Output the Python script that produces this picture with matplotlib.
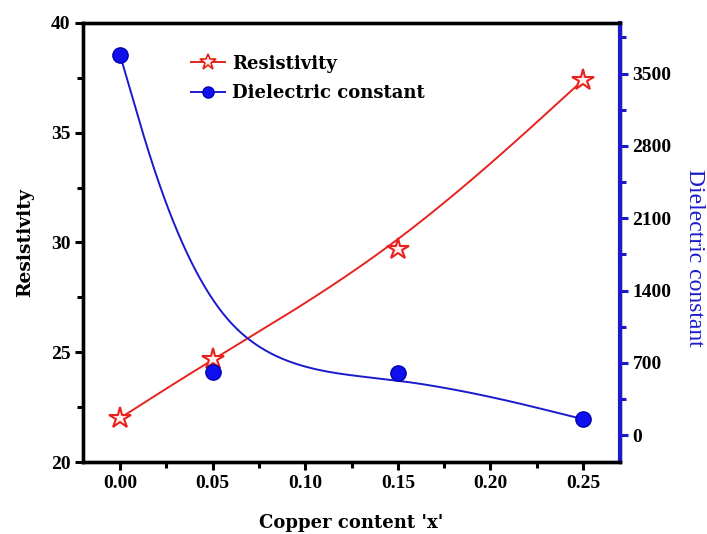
import numpy as np
import matplotlib
matplotlib.use("Agg")
import matplotlib.pyplot as plt
from matplotlib.ticker import MultipleLocator

# data
copper_x = [0.00, 0.05, 0.15, 0.25]
resistivity = [22.0, 24.7, 29.7, 37.4]
dielectric = [3680, 608, 600, 155]

xticks = [0.00, 0.05, 0.10, 0.15, 0.20, 0.25]
left_ticks = [20, 25, 30, 35, 40]
right_ticks = [0, 700, 1400, 2100, 2800, 3500]


def bspline3(xs, ys, n=120):
    """uniform cubic B-spline, end points tripled so the curve hits them"""
    P = np.column_stack([xs, ys]).astype(float)
    P = np.vstack([P[:1], P[:1], P, P[-1:], P[-1:]])
    t = np.linspace(0, 1, n)
    b0 = (1 - t) ** 3 / 6
    b1 = (3 * t ** 3 - 6 * t ** 2 + 4) / 6
    b2 = (-3 * t ** 3 + 3 * t ** 2 + 3 * t + 1) / 6
    b3 = t ** 3 / 6
    segs = []
    for i in range(len(P) - 3):
        seg = (b0[:, None] * P[i] + b1[:, None] * P[i + 1]
               + b2[:, None] * P[i + 2] + b3[:, None] * P[i + 3])
        segs.append(seg if i == 0 else seg[1:])
    out = np.vstack(segs)
    return out[:, 0], out[:, 1]


plt.rcParams['font.family'] = ['Liberation Serif', 'DejaVu Serif']
plt.rcParams['font.weight'] = 'bold'

fig = plt.figure(figsize=(7.07, 5.34), dpi=100)
ax = fig.add_axes([0.1174, 0.1348, 0.7596, 0.8222])
ax2 = ax.twinx()

red = '#e8221e'
blue = '#1a1acc'

rx, ry = bspline3(copper_x, resistivity)
ax.plot(rx, ry, color=red, lw=1.4, zorder=2)
ax.plot(copper_x, resistivity, ls='none', marker='*', ms=16, mfc='#fff0f0',
        mec=red, mew=1.5, zorder=3)

dx, dy = bspline3(copper_x, dielectric)
ax2.plot(dx, dy, color=blue, lw=1.4, zorder=2)
ax2.plot(copper_x, dielectric, ls='none', marker='o', ms=11, mfc='#1010ee',
         mec='#0000b0', mew=1, zorder=3)

ax.set_xlim(-0.02, 0.27)
ax.set_ylim(20, 40)
ax2.set_ylim(-260, 3990)

ax.set_xticks(xticks)
ax.set_xticklabels([f"{v:.2f}" for v in xticks])
ax.xaxis.set_minor_locator(MultipleLocator(0.025))
ax.set_yticks(left_ticks)
ax.yaxis.set_minor_locator(MultipleLocator(2.5))
ax2.set_yticks(right_ticks)
ax2.yaxis.set_minor_locator(MultipleLocator(350))

for a in (ax, ax2):
    for s in a.spines.values():
        s.set_linewidth(2.4)
    a.tick_params(which='major', direction='out', length=6, width=2.2,
                  labelsize=14, pad=3)
    a.tick_params(which='minor', direction='out', length=4, width=2.2)

ax.tick_params(axis='y', which='both', right=False)
ax.tick_params(axis='x', which='both', top=False)
ax2.spines['right'].set_color(blue)
ax2.spines['right'].set_linewidth(3)
ax2.tick_params(axis='y', which='both', colors=blue, labelcolor='black')

ax.set_xlabel("Copper content 'x'", fontsize=13, fontweight='bold',
              family='DejaVu Serif', labelpad=16)
ax.set_ylabel("Resistivity", fontsize=13.5, fontweight='bold',
              family='DejaVu Serif', labelpad=12)
ax2.set_ylabel("Dielectric constant", fontsize=17, fontweight='normal',
               color=blue, rotation=270, va='center')
ax2.yaxis.set_label_coords(1.138, 0.465)

# legend
h1 = ax.plot([], [], color=red, lw=1.4, marker='*', ms=12, mfc='#fff0f0',
             mec=red, mew=1.2)[0]
h2 = ax.plot([], [], color=blue, lw=1.4, marker='o', ms=8, mfc='#1010ee',
             mec='#0000b0')[0]
ax.legend([h1, h2], ['Resistivity', 'Dielectric constant'], loc='upper left',
          bbox_to_anchor=(0.17, 0.965), frameon=False, handlelength=1.9,
          handletextpad=0.4, labelspacing=0.65,
          prop={'family': 'DejaVu Serif', 'weight': 'bold', 'size': 13})

fig.savefig("out.png", dpi=100)
